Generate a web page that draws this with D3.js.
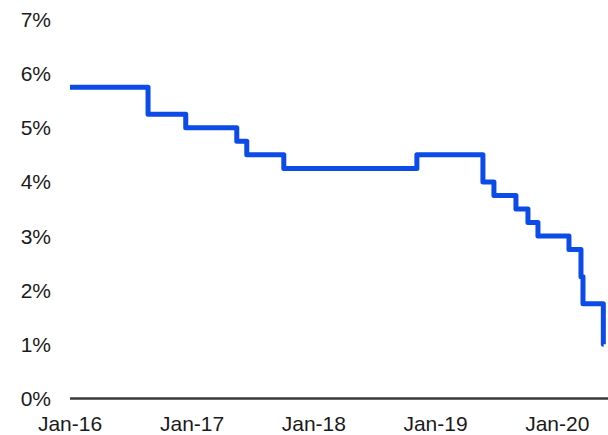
<!DOCTYPE html>
<html>
<head>
<meta charset="utf-8">
<script src="https://cdn.jsdelivr.net/npm/d3@7"></script>
<style>
  html, body { margin: 0; padding: 0; background: #fff; }
  svg { display: block; }
  text { font-family: "Liberation Sans", Arial, sans-serif; }
</style>
</head>
<body>
<svg id="chart" width="608" height="435"></svg>
<script>
// Dates at which the rate changes (step-after) and the rate in percent
const dates = [
  "2016-01-01", "2016-08-22", "2016-12-13", "2017-05-15", "2017-06-14",
  "2017-10-03", "2018-11-06", "2019-05-23", "2019-06-25", "2019-08-30",
  "2019-10-05", "2019-11-04", "2020-02-05", "2020-03-12", "2020-03-18",
  "2020-05-18", "2020-05-19"
];
const rates = [
  5.75, 5.25, 5.00, 4.75, 4.50,
  4.25, 4.50, 4.00, 3.75, 3.50,
  3.25, 3.00, 2.75, 2.25, 1.75,
  1.00, 1.00
];
const yTicks = [0, 1, 2, 3, 4, 5, 6, 7];
const xTickDates = ["2016-01-01", "2017-01-01", "2018-01-01", "2019-01-01", "2020-01-01"];
const xTickLabels = ["Jan-16", "Jan-17", "Jan-18", "Jan-19", "Jan-20"];

const parse = d3.utcParse("%Y-%m-%d");
const data = dates.map((d, i) => ({ date: parse(d), value: rates[i] }));

const svg = d3.select("#chart");

const x = d3.scaleUtc()
  .domain([parse("2016-01-01"), parse("2020-06-01")])
  .range([70, 608]);
const y = d3.scaleLinear()
  .domain([0, 7])
  .range([398.5, 19.5]);

// Y tick labels
svg.append("g")
  .selectAll("text")
  .data(yTicks)
  .join("text")
  .attr("x", 51)
  .attr("y", d => y(d))
  .attr("dy", "0.36em")
  .attr("text-anchor", "end")
  .attr("font-size", 21)
  .attr("fill", "#1a1a1a")
  .text(d => d + "%");

// X tick labels
svg.append("g")
  .selectAll("text")
  .data(xTickDates)
  .join("text")
  .attr("x", d => x(parse(d)))
  .attr("y", 430.5)
  .attr("text-anchor", "middle")
  .attr("font-size", 21)
  .attr("fill", "#1a1a1a")
  .text((d, i) => xTickLabels[i]);

// Baseline (0%)
svg.append("line")
  .attr("x1", x.range()[0])
  .attr("x2", x.range()[1])
  .attr("y1", y(0))
  .attr("y2", y(0))
  .attr("stroke", "#3a3a3a")
  .attr("stroke-width", 2.5);

// Rate line
const line = d3.line()
  .x(d => x(d.date))
  .y(d => y(d.value))
  .curve(d3.curveStepAfter);

svg.append("path")
  .datum(data)
  .attr("d", line)
  .attr("fill", "none")
  .attr("stroke", "#0d4be8")
  .attr("stroke-width", 5)
  .attr("stroke-linejoin", "round")
  .attr("stroke-linecap", "butt");
</script>
</body>
</html>
